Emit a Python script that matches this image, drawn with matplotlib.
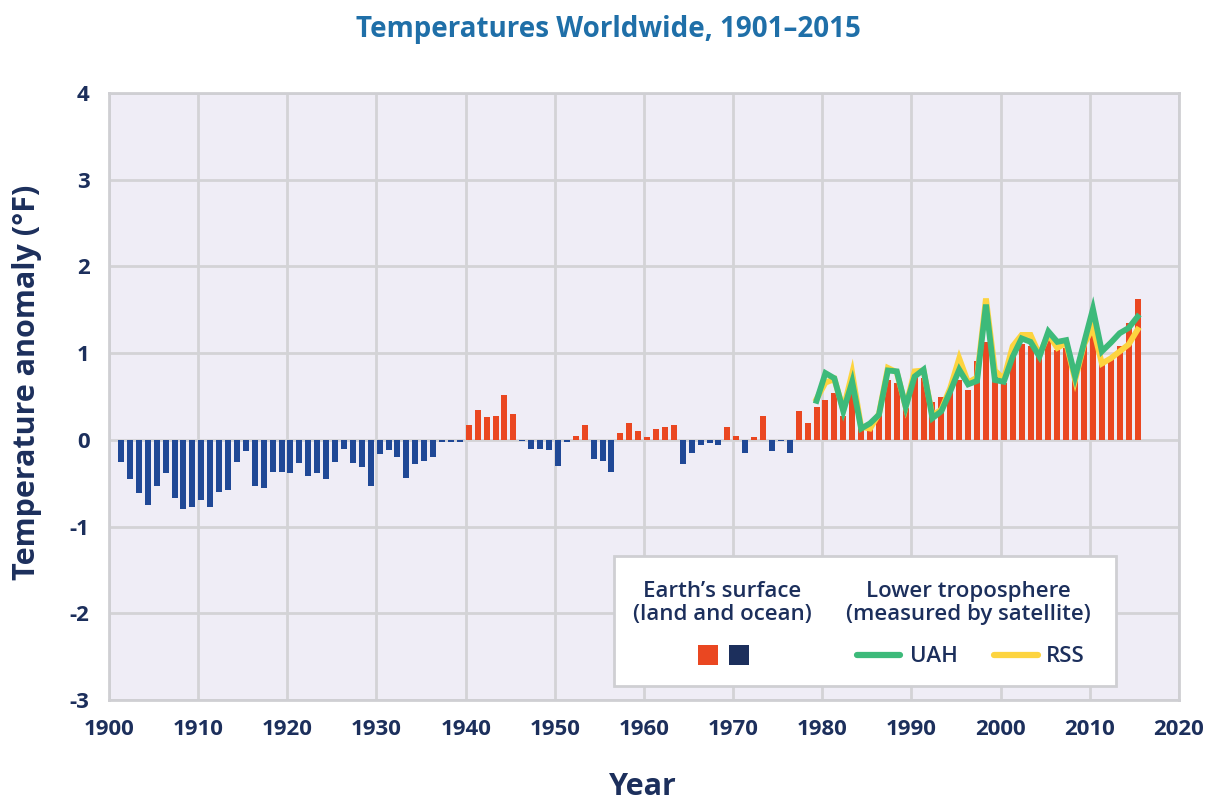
import numpy as np
import matplotlib
matplotlib.use("Agg")
import matplotlib.pyplot as plt
from matplotlib.patches import Rectangle
from matplotlib.lines import Line2D

# Earth's surface anomaly (deg F), 1901-2015
years = np.arange(1901, 2016)
surface = [
    -0.26, -0.45, -0.61, -0.75, -0.53, -0.38, -0.67, -0.80, -0.78, -0.69,   # 1901-1910
    -0.78, -0.60, -0.58, -0.25, -0.13, -0.53, -0.56, -0.37, -0.37, -0.38,   # 1911-1920
    -0.27, -0.42, -0.38, -0.45, -0.25, -0.10, -0.27, -0.31, -0.53, -0.16,   # 1921-1930
    -0.12, -0.20, -0.44, -0.28, -0.24, -0.20, -0.02, -0.03, -0.02, 0.17,    # 1931-1940
    0.35, 0.26, 0.28, 0.52, 0.30, -0.01, -0.10, -0.10, -0.12, -0.30,        # 1941-1950
    -0.02, 0.05, 0.17, -0.22, -0.24, -0.37, 0.08, 0.19, 0.10, 0.03,         # 1951-1960
    0.12, 0.15, 0.17, -0.28, -0.15, -0.06, -0.04, -0.06, 0.15, 0.05,        # 1961-1970
    -0.15, 0.03, 0.28, -0.13, -0.01, -0.15, 0.33, 0.19, 0.38, 0.46,         # 1971-1980
    0.54, 0.28, 0.55, 0.17, 0.12, 0.30, 0.69, 0.65, 0.37, 0.73,             # 1981-1990
    0.71, 0.44, 0.50, 0.56, 0.69, 0.58, 0.91, 1.13, 0.73, 0.65,             # 1991-2000
    1.00, 1.10, 1.08, 0.98, 1.17, 1.04, 1.06, 0.77, 1.12, 1.31,             # 2001-2010
    0.88, 0.96, 1.08, 1.35, 1.62,                                           # 2011-2015
]

# Lower troposphere (satellite), 1979-2015
sat_years = np.arange(1979, 2016)
uah = [
    0.45, 0.77, 0.71, 0.33, 0.67, 0.13, 0.19, 0.29, 0.80, 0.79,
    0.38, 0.73, 0.81, 0.25, 0.33, 0.56, 0.81, 0.64, 0.68, 1.56,
    0.69, 0.67, 0.96, 1.17, 1.13, 0.96, 1.25, 1.13, 1.15, 0.73,
    1.12, 1.51, 1.02, 1.12, 1.23, 1.29, 1.42,
]
rss = [
    0.47, 0.66, 0.70, 0.35, 0.77, 0.15, 0.13, 0.30, 0.83, 0.78,
    0.38, 0.79, 0.80, 0.28, 0.35, 0.60, 0.94, 0.66, 0.72, 1.63,
    0.80, 0.70, 1.08, 1.21, 1.21, 0.98, 1.22, 1.06, 1.12, 0.69,
    1.10, 1.30, 0.88, 0.94, 1.02, 1.10, 1.27,
]

navy = "#1c2f5c"
red = "#ea4721"
blue = "#1f4896"
green = "#3dba7a"
yellow = "#fdd43f"

plt.rcParams["font.family"] = ["Open Sans", "DejaVu Sans"]
plt.rcParams["axes.unicode_minus"] = False

fig = plt.figure(figsize=(12.17, 8), dpi=100)
ax = fig.add_axes([109 / 1217, 1 - 700 / 800, (1179 - 109) / 1217, (700 - 93) / 800])
ax.set_facecolor("#efedf6")

surface = np.array(surface)
cols = [red if v >= 0 else blue for v in surface]
ax.bar(years + 0.35, surface, width=0.68, color=cols, zorder=2)

ax.plot(sat_years + 0.35, rss, color=yellow, lw=4.2, solid_joinstyle="miter", zorder=3)
ax.plot(sat_years + 0.35, uah, color=green, lw=4.2, solid_joinstyle="miter", zorder=4)

ax.set_xlim(1900, 2020)
ax.set_ylim(-3, 4)
ax.set_xticks(range(1900, 2021, 10))
ax.set_yticks(range(-3, 5))
ax.grid(True, color="#d3d3d6", lw=2, zorder=0)
ax.set_axisbelow(True)
for s in ax.spines.values():
    s.set_color("#cfcfd3")
    s.set_linewidth(2)
ax.tick_params(length=0, labelsize=16, labelcolor=navy, pad=14)
for lab in ax.get_xticklabels() + ax.get_yticklabels():
    lab.set_fontweight("bold")

fig.text(0.5, 1 - 30 / 800, "Temperatures Worldwide, 1901\u20132015", ha="center", va="center",
         fontsize=20, fontweight="bold", color="#1f6fa8")
fig.text(27 / 1217, 1 - 382 / 800, "Temperature anomaly (\u00b0F)", rotation=90, ha="center",
         va="center", fontsize=22, fontweight="bold", color=navy)
fig.text(643 / 1217, 1 - 787 / 800, "Year", ha="center", va="center", fontsize=22,
         fontweight="bold", color=navy)

# legend box drawn by hand in figure pixels
def fx(px):
    return px / 1217

def fy(py):
    return 1 - py / 800

fig.patches.append(Rectangle((fx(614), fy(686)), fx(1116) - fx(614), fy(556) - fy(686),
                             transform=fig.transFigure, facecolor="white",
                             edgecolor="#cfcfd3", lw=2, zorder=5))
fig.text(fx(722), fy(603), "Earth\u2019s surface\n(land and ocean)", ha="center", va="center",
         fontsize=16, fontweight="semibold", color=navy, linespacing=1.1, zorder=6)
fig.text(fx(968), fy(603), "Lower troposphere\n(measured by satellite)", ha="center", va="center",
         fontsize=16, fontweight="semibold", color=navy, linespacing=1.1, zorder=6)
fig.patches.append(Rectangle((fx(698), fy(665)), fx(20), 20 / 800, transform=fig.transFigure,
                             facecolor=red, zorder=6))
fig.patches.append(Rectangle((fx(729), fy(665)), fx(20), 20 / 800, transform=fig.transFigure,
                             facecolor=navy, zorder=6))
fig.lines.append(Line2D([fx(857), fx(900)], [fy(655), fy(655)], transform=fig.transFigure,
                        color=green, lw=4.5, solid_capstyle="round", zorder=6))
fig.lines.append(Line2D([fx(994), fx(1038)], [fy(655), fy(655)], transform=fig.transFigure,
                        color=yellow, lw=4.5, solid_capstyle="round", zorder=6))
fig.text(fx(910), fy(656), "UAH", ha="left", va="center", fontsize=16, fontweight="semibold",
         color=navy, zorder=6)
fig.text(fx(1046), fy(656), "RSS", ha="left", va="center", fontsize=16, fontweight="semibold",
         color=navy, zorder=6)

fig.savefig("out.png", dpi=100)
